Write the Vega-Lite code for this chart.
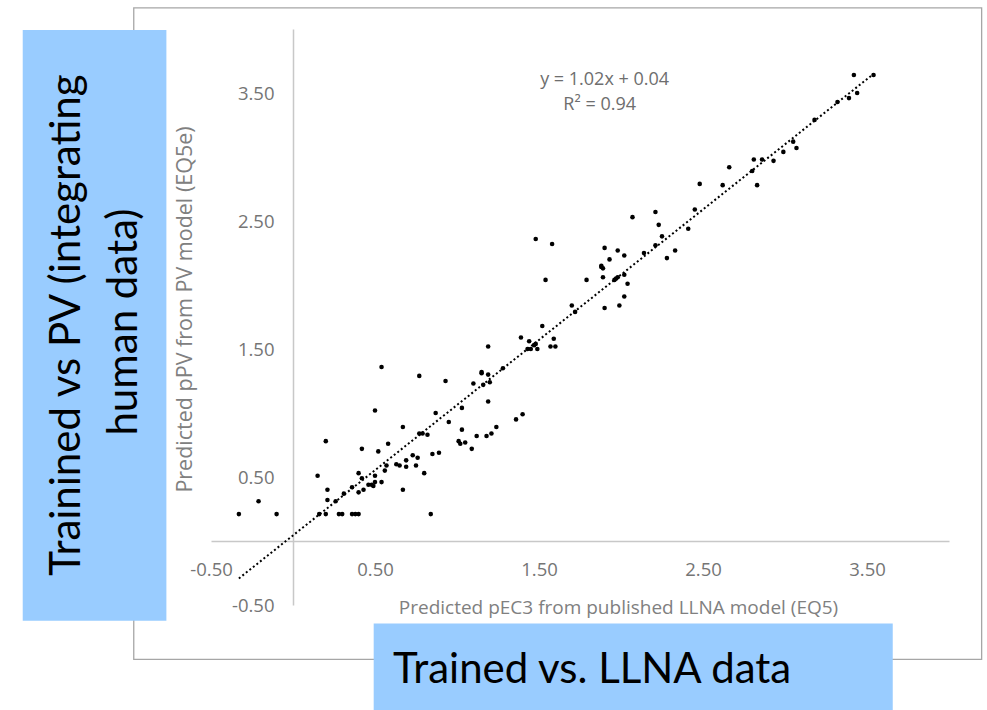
{
  "$schema": "https://vega.github.io/schema/vega-lite/v6.json",
  "width": 738,
  "height": 576,
  "autosize": {"type": "none"},
  "padding": {"left": 211, "top": 29, "right": 38, "bottom": 105},
  "background": "white",
  "config": {
    "view": {"stroke": null},
    "font": "Open Sans",
    "locale": {"number": {"decimal": ".", "thousands": ",", "grouping": [3], "currency": ["$", ""], "minus": "-"}}
  },
  "data": {"values": [
    {"x": -0.33, "y": 0.21}, {"x": -0.21, "y": 0.31}, {"x": -0.10, "y": 0.21}, {"x": 0.15, "y": 0.51},
    {"x": 0.20, "y": 0.78}, {"x": 0.21, "y": 0.40}, {"x": 0.21, "y": 0.32}, {"x": 0.16, "y": 0.21},
    {"x": 0.20, "y": 0.21}, {"x": 0.26, "y": 0.31}, {"x": 0.28, "y": 0.21}, {"x": 0.30, "y": 0.21},
    {"x": 0.31, "y": 0.37}, {"x": 0.36, "y": 0.42}, {"x": 0.36, "y": 0.21}, {"x": 0.38, "y": 0.21},
    {"x": 0.40, "y": 0.21}, {"x": 0.40, "y": 0.53}, {"x": 0.40, "y": 0.38}, {"x": 0.42, "y": 0.72},
    {"x": 0.43, "y": 0.40}, {"x": 0.42, "y": 0.49}, {"x": 0.46, "y": 0.44}, {"x": 0.48, "y": 0.44},
    {"x": 0.49, "y": 0.43}, {"x": 0.50, "y": 0.46}, {"x": 0.50, "y": 0.51}, {"x": 0.52, "y": 0.70},
    {"x": 0.54, "y": 1.36}, {"x": 0.50, "y": 1.02}, {"x": 0.54, "y": 0.46}, {"x": 0.56, "y": 0.55},
    {"x": 0.57, "y": 0.59}, {"x": 0.58, "y": 0.76}, {"x": 0.63, "y": 0.60}, {"x": 0.65, "y": 0.59},
    {"x": 0.67, "y": 0.89}, {"x": 0.67, "y": 0.40}, {"x": 0.69, "y": 0.63}, {"x": 0.69, "y": 0.58},
    {"x": 0.73, "y": 0.67}, {"x": 0.75, "y": 0.59}, {"x": 0.76, "y": 0.65}, {"x": 0.77, "y": 1.29},
    {"x": 0.77, "y": 0.84}, {"x": 0.79, "y": 0.84}, {"x": 0.80, "y": 0.53}, {"x": 0.82, "y": 0.83},
    {"x": 0.84, "y": 0.21}, {"x": 0.85, "y": 0.68}, {"x": 0.89, "y": 0.69}, {"x": 0.87, "y": 1.00},
    {"x": 0.93, "y": 1.25}, {"x": 0.95, "y": 0.93}, {"x": 1.01, "y": 0.78}, {"x": 1.02, "y": 0.76},
    {"x": 1.05, "y": 0.77}, {"x": 1.03, "y": 0.87}, {"x": 1.03, "y": 1.04}, {"x": 1.09, "y": 0.72},
    {"x": 1.10, "y": 1.23}, {"x": 1.12, "y": 0.82}, {"x": 1.15, "y": 1.32}, {"x": 1.15, "y": 1.31},
    {"x": 1.16, "y": 1.22}, {"x": 1.18, "y": 0.82}, {"x": 1.21, "y": 0.84}, {"x": 1.19, "y": 1.30},
    {"x": 1.19, "y": 1.09}, {"x": 1.19, "y": 1.52}, {"x": 1.20, "y": 1.24}, {"x": 1.24, "y": 0.89},
    {"x": 1.28, "y": 1.35}, {"x": 1.36, "y": 0.95}, {"x": 1.40, "y": 0.99}, {"x": 1.39, "y": 1.59},
    {"x": 1.43, "y": 1.50}, {"x": 1.44, "y": 1.56}, {"x": 1.45, "y": 1.50}, {"x": 1.48, "y": 1.54},
    {"x": 1.49, "y": 1.50}, {"x": 1.47, "y": 1.53}, {"x": 1.52, "y": 1.68}, {"x": 1.57, "y": 1.52},
    {"x": 1.59, "y": 1.58}, {"x": 1.60, "y": 1.52}, {"x": 1.48, "y": 2.36}, {"x": 1.58, "y": 2.32},
    {"x": 1.54, "y": 2.04}, {"x": 1.70, "y": 1.84}, {"x": 1.72, "y": 1.79}, {"x": 1.79, "y": 2.04},
    {"x": 1.88, "y": 2.14}, {"x": 1.88, "y": 2.15}, {"x": 1.89, "y": 2.13}, {"x": 1.89, "y": 2.06},
    {"x": 1.90, "y": 2.29}, {"x": 1.90, "y": 1.82}, {"x": 1.93, "y": 2.20}, {"x": 1.96, "y": 2.04},
    {"x": 1.97, "y": 2.05}, {"x": 1.98, "y": 2.06}, {"x": 1.98, "y": 2.27}, {"x": 1.99, "y": 1.84},
    {"x": 2.02, "y": 2.08}, {"x": 2.02, "y": 1.91}, {"x": 2.02, "y": 2.23}, {"x": 2.04, "y": 2.01},
    {"x": 2.07, "y": 2.53}, {"x": 2.14, "y": 2.25}, {"x": 2.21, "y": 2.31}, {"x": 2.21, "y": 2.57},
    {"x": 2.23, "y": 2.47}, {"x": 2.25, "y": 2.38}, {"x": 2.28, "y": 2.21}, {"x": 2.33, "y": 2.27},
    {"x": 2.41, "y": 2.44}, {"x": 2.45, "y": 2.59}, {"x": 2.48, "y": 2.79}, {"x": 2.62, "y": 2.78},
    {"x": 2.66, "y": 2.92}, {"x": 2.81, "y": 2.98}, {"x": 2.86, "y": 2.98}, {"x": 2.80, "y": 2.89},
    {"x": 2.83, "y": 2.78}, {"x": 2.93, "y": 2.97}, {"x": 2.99, "y": 3.04}, {"x": 3.05, "y": 3.12},
    {"x": 3.07, "y": 3.07}, {"x": 3.18, "y": 3.29}, {"x": 3.32, "y": 3.43}, {"x": 3.39, "y": 3.46},
    {"x": 3.44, "y": 3.50}, {"x": 3.42, "y": 3.64}, {"x": 3.54, "y": 3.64}
  ]},
  "layer": [
    {
      "mark": {"type": "circle", "size": 21, "color": "black", "opacity": 1},
      "encoding": {
        "x": {
          "field": "x", "type": "quantitative",
          "scale": {"domain": [-0.5, 4], "nice": false, "zero": false},
          "axis": {
            "disable": false,
            "title": "Predicted pEC3 from published LLNA model (EQ5)",
            "values": [-0.5, 0.5, 1.5, 2.5, 3.5], "format": ".2f",
            "offset": -64, "ticks": false, "tickSize": 0, "grid": false, "domain": true,
            "domainColor": "#C8C8C8", "domainWidth": 1.5,
            "labelFont": "Open Sans", "labelFontSize": 18.5, "labelColor": "#757575",
            "labelPadding": 28, "labelBaseline": "middle", "labelFlush": false, "labelOverlap": false,
            "titleFont": "Open Sans", "titleFontSize": 19, "titleFontWeight": "normal", "titleColor": "#808080",
            "titleX": 407, "titleY": 66, "titleBaseline": "middle", "titleAlign": "center"
          }
        },
        "y": {
          "field": "y", "type": "quantitative",
          "scale": {"domain": [-0.5, 4], "nice": false, "zero": false},
          "axis": {
            "disable": false,
            "title": "Predicted pPV from PV model (EQ5e)",
            "values": [-0.5, 0.5, 1.5, 2.5, 3.5], "format": ".2f",
            "offset": -82, "ticks": false, "tickSize": 0, "grid": false, "domain": true,
            "domainColor": "#C8C8C8", "domainWidth": 1.5,
            "labelFont": "Open Sans", "labelFontSize": 18.5, "labelColor": "#757575",
            "labelPadding": 19, "labelFlush": false, "labelOverlap": false,
            "titleFont": "Open Sans", "titleFontSize": 21.5, "titleFontWeight": "normal", "titleColor": "#808080",
            "titleX": -107.5, "titleY": 280, "titleBaseline": "middle", "titleAlign": "center", "titleAngle": 270
          }
        }
      }
    },
    {
      "data": {"values": [{}]},
      "mark": {"type": "rect", "filled": false, "stroke": "#A6A6A6", "strokeWidth": 1.3},
      "encoding": {
        "x": {"datum": -0.971, "type": "quantitative"},
        "x2": {"datum": 4.199},
        "y": {"datum": 4.165, "type": "quantitative"},
        "y2": {"datum": -0.925}
      }
    },
    {
      "data": {"values": [{}]},
      "mark": {"type": "rect", "fill": "#99CCFF", "stroke": null},
      "encoding": {
        "x": {"datum": -1.648, "type": "quantitative"},
        "x2": {"datum": -0.772},
        "y": {"datum": 3.993, "type": "quantitative"},
        "y2": {"datum": -0.623}
      }
    },
    {
      "data": {"values": [{}]},
      "mark": {"type": "rect", "fill": "#99CCFF", "stroke": null},
      "encoding": {
        "x": {"datum": 0.492, "type": "quantitative"},
        "x2": {"datum": 3.657},
        "y": {"datum": -0.645, "type": "quantitative"},
        "y2": {"datum": -1.4}
      }
    },
    {
      "data": {"values": [{}]},
      "mark": {"type": "text", "text": "Trainined vs PV (integrating", "font": "Lato", "fontSize": 42, "color": "black", "angle": 270, "align": "center", "baseline": "alphabetic"},
      "encoding": {
        "x": {"datum": -1.301, "type": "quantitative"},
        "y": {"datum": 1.687, "type": "quantitative"}
      }
    },
    {
      "data": {"values": [{}]},
      "mark": {"type": "text", "text": "human data)", "font": "Lato", "fontSize": 42, "color": "black", "angle": 270, "align": "center", "baseline": "alphabetic"},
      "encoding": {
        "x": {"datum": -0.953, "type": "quantitative"},
        "y": {"datum": 1.71, "type": "quantitative"}
      }
    },
    {
      "data": {"values": [{}]},
      "mark": {"type": "text", "text": "Trained vs. LLNA data", "font": "Lato", "fontSize": 42, "color": "black", "align": "center", "baseline": "alphabetic"},
      "encoding": {
        "x": {"datum": 1.824, "type": "quantitative"},
        "y": {"datum": -1.106, "type": "quantitative"}
      }
    },
    {
      "transform": [{"regression": "y", "on": "x"}],
      "mark": {"type": "line", "color": "black", "strokeWidth": 2, "strokeDash": [2, 2.5]},
      "encoding": {
        "x": {"field": "x", "type": "quantitative"},
        "y": {"field": "y", "type": "quantitative"}
      }
    },
    {
      "data": {"values": [{}]},
      "mark": {"type": "text", "text": "y = 1.02x + 0.04", "font": "Open Sans", "fontSize": 18, "color": "#6E6E6E", "align": "center", "baseline": "middle"},
      "encoding": {
        "x": {"datum": 1.90, "type": "quantitative"},
        "y": {"datum": 3.60, "type": "quantitative"}
      }
    },
    {
      "data": {"values": [{}]},
      "mark": {"type": "text", "text": "R² = 0.94", "font": "Open Sans", "fontSize": 18, "color": "#6E6E6E", "align": "center", "baseline": "middle"},
      "encoding": {
        "x": {"datum": 1.87, "type": "quantitative"},
        "y": {"datum": 3.41, "type": "quantitative"}
      }
    }
  ]
}
